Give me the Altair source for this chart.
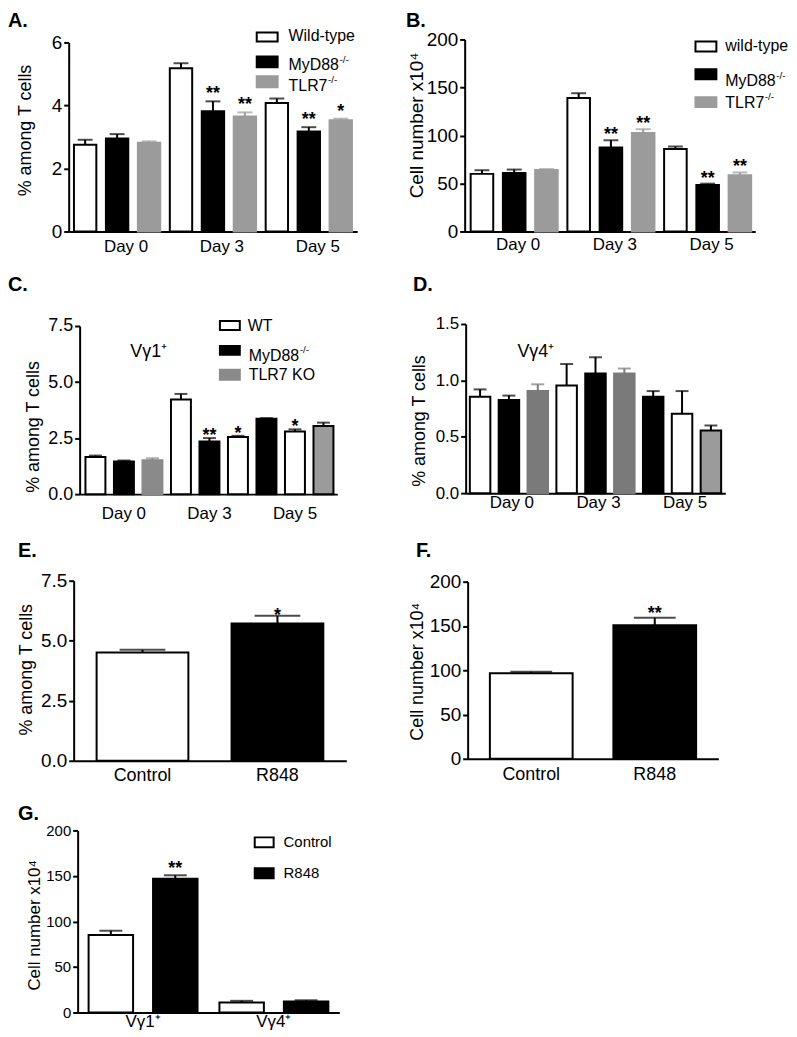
import altair as alt
import pandas as pd

FONT = "Liberation Sans"
M = 8                      # page margin
W, H = 797 - 2 * M, 1037 - 2 * M

# ---------------- data ----------------
DAYS = ["Day 0", "Day 3", "Day 5"]

a_vals = [2.75, 2.95, 2.82, 5.18, 3.82, 3.65, 4.08, 3.17, 3.53]
a_errs = [0.16, 0.14, 0.04, 0.16, 0.31, 0.13, 0.14, 0.14, 0.05]
a_stars = ["", "", "", "", "**", "**", "", "**", "*"]
a_kinds = ["open", "solid", "grey"] * 3
a_legend = ["Wild-type", "MyD88", "TLR7"]

b_vals = [60, 61, 64, 139, 87.5, 102.5, 86, 48.5, 58.5]
b_errs = [3.8, 3.5, 1.0, 5.0, 7.5, 4.0, 2.5, 1.3, 3.0]
b_stars = ["", "", "", "", "**", "**", "", "**", "**"]
b_kinds = ["open", "solid", "grey"] * 3
b_legend = ["wild-type", "MyD88", "TLR7"]

c_vals = [1.66, 1.46, 1.51, 4.22, 2.35, 2.55, 3.36, 2.79, 3.04]
c_errs = [0.06, 0.04, 0.09, 0.25, 0.15, 0.05, 0.03, 0.10, 0.15]
c_stars = ["", "", "", "", "**", "*", "", "*", ""]
c_kinds = ["open", "solid", "greyMid", "open", "solid", "open", "solid", "open", "greyLine"]
c_legend = ["WT", "MyD88", "TLR7 KO"]

d_vals = [0.855, 0.825, 0.905, 0.955, 1.06, 1.06, 0.855, 0.705, 0.555]
d_errs = [0.065, 0.04, 0.06, 0.19, 0.145, 0.045, 0.05, 0.20, 0.045]
d_stars = [""] * 9
d_kinds = ["open", "solid", "greyDark", "open", "solid", "greyDark", "solid", "open", "greyLine"]

e_groups = ["Control", "R848"]
e_vals = [4.51, 5.72]
e_errs = [0.11, 0.32]
e_stars = ["", "*"]

f_groups = ["Control", "R848"]
f_vals = [96.5, 150.8]
f_errs = [1.8, 8.6]
f_stars = ["", "**"]

g_cells = ["Vγ1⁺", "Vγ1⁺", "Vγ4⁺", "Vγ4⁺"]
g_treat = ["Control", "R848", "Control", "R848"]
g_vals = [85, 147, 11, 12]
g_errs = [4.8, 3.7, 1.8, 1.4]
g_stars = ["", "**", "", ""]

KINDS = ["open", "solid", "grey", "greyMid", "greyDark", "greyLine"]
FILLS = ["#ffffff", "#000000", "#9b9b9b", "#8a8a8a", "#7a7a7a", "#9b9b9b"]
STROKES = ["#000000", "#000000", "#9b9b9b", "#8a8a8a", "#7a7a7a", "#000000"]
FILL_SCALE = alt.Scale(domain=KINDS, range=FILLS)
STROKE_SCALE = alt.Scale(domain=KINDS, range=STROKES)

NINE_KEYS = [f"{d}|{i}" for d in DAYS for i in range(3)]
DAY_EXPR = "split(datum.value, '|')[1] == '1' ? split(datum.value, '|')[0] : ''"

# Arial-metric advance widths (em) used to place superscripts after a label
EM = {"M": .833, "y": .5, "D": .722, "8": .556, "T": .611, "L": .556, "R": .722, "7": .556}


def text_width(s, fs):
    return sum(EM.get(c, .556) for c in s) * fs


def frame(keys, vals, errs, stars, kinds, extra=None):
    df = pd.DataFrame({"x": keys, "val": vals,
                       "top": [v + e for v, e in zip(vals, errs)],
                       "star": stars, "kind": kinds})
    if extra:
        for k, v in extra.items():
            df[k] = v
    return df


def panel(df, xdomain, xr, yr, ymax, yvals, yfmt, ytitle, tcenter, *,
          title_fs=18, tick_fs=18, lab_fs=17, lab_pad=6, lab_dx=0, cap=14,
          star_dy=0, star_fs=18, pin=0.3, pout=0.16, align=0.5, label_expr=None,
          off_domain=None, opin=0.3, opout=0.17):
    x0, x1 = xr
    y0, y1 = yr
    xkw = dict(orient="bottom", offset=(y0 - M) - H, title=None, ticks=False,
               labelAngle=0, labelFontSize=lab_fs, labelPadding=lab_pad,
               labelOffset=lab_dx, domainWidth=2, grid=False, labelOverlap=False)
    if label_expr:
        xkw["labelExpr"] = label_expr
    xaxis = alt.Axis(**xkw)
    yaxis = alt.Axis(orient="left", offset=-(x0 - M), values=yvals, format=yfmt,
                     title=ytitle, titleX=tcenter[0] - x0, titleY=tcenter[1] - M,
                     titleAngle=270, titleAlign="center", titleBaseline="middle",
                     titleFontSize=title_fs, titleFontWeight="normal", titlePadding=0,
                     labelFontSize=tick_fs, labelPadding=2, tickSize=5, tickWidth=2,
                     domainWidth=2, grid=False)
    xs = alt.Scale(domain=xdomain, range=[x0 - M, x1 - M], paddingInner=pin,
                   paddingOuter=pout, align=align)
    ys = alt.Scale(domain=[0, ymax], range=[y0 - M, y1 - M], nice=False, zero=True)
    X = alt.X("x:N", scale=xs, axis=xaxis, sort=xdomain)
    Yv = alt.Y("val:Q", scale=ys, axis=yaxis)
    Yt = alt.Y("top:Q", scale=ys, axis=yaxis)
    extra = {}
    if off_domain:
        extra["xOffset"] = alt.XOffset("sub:N", scale=alt.Scale(
            domain=off_domain, paddingInner=opin, paddingOuter=opout), sort=off_domain)
    base = alt.Chart(df)
    bars = base.mark_bar(strokeWidth=2).encode(
        x=X, y=Yv,
        fill=alt.Fill("kind:N", scale=FILL_SCALE, legend=None),
        stroke=alt.Stroke("kind:N", scale=STROKE_SCALE, legend=None), **extra)
    err = base.mark_rule(strokeWidth=2).encode(
        x=X, y=Yv, y2="top:Q",
        color=alt.Color("kind:N", scale=STROKE_SCALE, legend=None), **extra)
    caps = base.mark_tick(thickness=2, size=cap).encode(
        x=X, y=Yt, color=alt.Color("kind:N", scale=STROKE_SCALE, legend=None), **extra)
    stars = base.mark_text(baseline="alphabetic", dy=star_dy, fontSize=star_fs,
                           fontWeight="bold", color="black").encode(
        x=X, y=Yt, text="star:N", **extra)
    return alt.layer(bars, err, caps, stars)


def text_at(label, x, y, fs, bold=False, baseline="middle"):
    return alt.Chart(pd.DataFrame({"t": [label]})).mark_text(
        align="left", baseline=baseline, fontSize=fs,
        fontWeight="bold" if bold else "normal", color="black").encode(
        x=alt.value(x - M), y=alt.value(y - M), text="t:N")


def legend_item(label, kind, box, tpos, fs, sup=False):
    bx0, by0, bx1, by1 = box
    i = KINDS.index(kind)
    df = pd.DataFrame({"t": [label]})
    rect = alt.Chart(df).mark_rect(fill=FILLS[i], stroke=STROKES[i], strokeWidth=2).encode(
        x=alt.value(bx0 - M), x2=alt.value(bx1 - M),
        y=alt.value(by0 - M), y2=alt.value(by1 - M))
    parts = [rect, text_at(label, tpos[0], tpos[1], fs)]
    if sup:
        parts.append(text_at("-/-", tpos[0] + text_width(label, fs) + 0.5,
                             tpos[1] - 0.36 * fs, 10))
    return alt.layer(*parts)


layers = []

# ---------- A ----------
layers.append(panel(frame(NINE_KEYS, a_vals, a_errs, a_stars, a_kinds), NINE_KEYS,
                    (68, 358), (228, 38), 6, [0, 2, 4, 6], "d", "% among T cells", (25, 126),
                    title_fs=18, tick_fs=19, lab_fs=17, lab_pad=7, lab_dx=9, cap=15,
                    star_dy=-2, pin=0.3, pout=0.165, label_expr=DAY_EXPR))
layers.append(legend_item(a_legend[0], "open", (257, 28, 278, 37), (289, 32), 16))
layers.append(legend_item(a_legend[1], "solid", (257, 52, 278, 63), (289, 61), 16, sup=True))
layers.append(legend_item(a_legend[2], "grey", (257, 72, 278, 83), (289, 82), 16, sup=True))

# ---------- B ----------
layers.append(panel(frame(NINE_KEYS, b_vals, b_errs, b_stars, b_kinds), NINE_KEYS,
                    (466, 758), (228, 35), 200, [0, 50, 100, 150, 200], "d",
                    "Cell number x10⁴", (418, 121),
                    title_fs=19, tick_fs=19, lab_fs=17, lab_pad=5, lab_dx=4, cap=15,
                    star_dy=0, pin=0.3, pout=0.155, align=0.6, label_expr=DAY_EXPR))
layers.append(legend_item(b_legend[0], "open", (698, 37, 719, 47), (728, 42), 16))
layers.append(legend_item(b_legend[1], "solid", (698, 65, 719, 75), (728, 77), 16, sup=True))
layers.append(legend_item(b_legend[2], "grey", (698, 93, 719, 103), (728, 99), 16, sup=True))

# ---------- C ----------
layers.append(panel(frame(NINE_KEYS, c_vals, c_errs, c_stars, c_kinds), NINE_KEYS,
                    (79, 338), (492, 323), 7.5, [0, 2.5, 5, 7.5], ".1f", "% among T cells",
                    (33, 424), title_fs=18, tick_fs=18, lab_fs=17, lab_pad=11, lab_dx=0,
                    cap=13, star_dy=3, pin=0.3, pout=0.17, align=0.6, label_expr=DAY_EXPR))
layers.append(legend_item(c_legend[0], "open", (220, 318, 240, 327), (248, 323), 16))
layers.append(legend_item(c_legend[1], "solid", (220, 343, 240, 352), (249, 353), 16, sup=True))
layers.append(legend_item(c_legend[2], "greyMid", (220, 367, 240, 377), (249, 372), 16))
layers.append(text_at("Vγ1⁺", 130, 349, 18))

# ---------- D ----------
layers.append(panel(frame(NINE_KEYS, d_vals, d_errs, d_stars, d_kinds), NINE_KEYS,
                    (467, 728), (491, 321), 1.5, [0, 0.5, 1.0, 1.5], ".1f", "% among T cells",
                    (421, 418), title_fs=18, tick_fs=17, lab_fs=17, lab_pad=1, lab_dx=3,
                    cap=13, pin=0.29, pout=0.145, label_expr=DAY_EXPR))
layers.append(text_at("Vγ4⁺", 519, 349, 18))

# ---------- E ----------
layers.append(panel(frame(e_groups, e_vals, e_errs, e_stars, ["open", "solid"]), e_groups,
                    (73, 347), (760, 579), 7.5, [0, 2.5, 5, 7.5], ".1f", "% among T cells",
                    (26, 668), title_fs=18, tick_fs=19, lab_fs=18, lab_pad=6, cap=46,
                    star_dy=5, pin=0.32, pout=0.17))

# ---------- F ----------
layers.append(panel(frame(f_groups, f_vals, f_errs, f_stars, ["open", "solid"]), f_groups,
                    (469, 721), (758, 580), 200, [0, 50, 100, 150, 200], "d",
                    "Cell number x10⁴", (419, 670), title_fs=18, tick_fs=19, lab_fs=18,
                    lab_pad=7, cap=42, star_dy=1, pin=0.33, pout=0.18))

# ---------- G ----------
g_df = frame(g_cells, g_vals, g_errs, g_stars, ["open", "solid"] * 2, extra={"sub": g_treat})
layers.append(panel(g_df, ["Vγ1⁺", "Vγ4⁺"], (77, 340), (1013, 830), 200,
                    [0, 50, 100, 150, 200], "d", "Cell number x10⁴", (34, 925),
                    title_fs=17, tick_fs=15, lab_fs=17, lab_pad=1, cap=23, star_dy=-1,
                    pin=0.0, pout=0.0, off_domain=["Control", "R848"], opin=0.31, opout=0.17))
layers.append(legend_item("Control", "open", (255, 837, 274, 847), (284, 842), 15))
layers.append(legend_item("R848", "solid", (255, 868, 274, 878), (284, 873), 15))

# ---------- panel letters ----------
for letter, (lx, ly) in zip(["A.", "B.", "C.", "D.", "E.", "F.", "G."],
                            [(7, 22), (407, 22), (7, 288), (414, 288),
                             (17, 555), (417, 555), (17, 820)]):
    layers.append(text_at(letter, lx, ly, 20, bold=True, baseline="alphabetic"))

chart = alt.layer(*layers).resolve_scale(
    x="independent", y="independent"
).resolve_axis(
    x="independent", y="independent"
).properties(
    width=W, height=H, padding=0
).configure_view(
    stroke=None
).configure_axis(
    labelFont=FONT, titleFont=FONT, labelColor="black", titleColor="black",
    domainColor="black", tickColor="black"
).configure_text(font=FONT)

chart.save("out.html", embed_options={"renderer": "svg", "actions": False})
